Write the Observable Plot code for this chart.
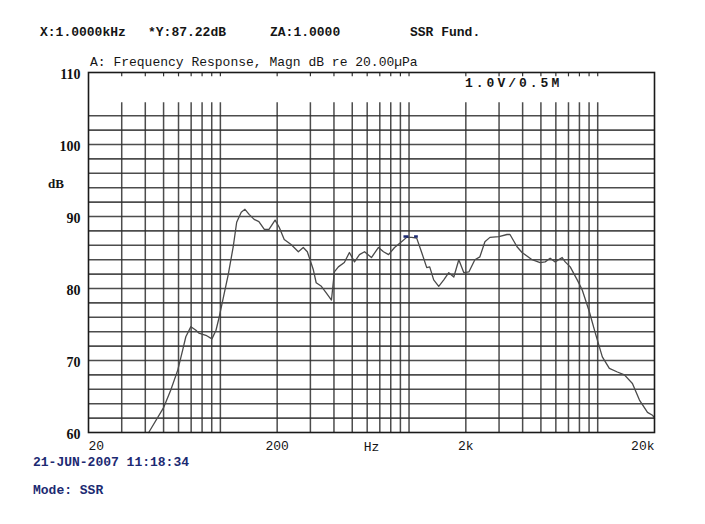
<!DOCTYPE html>
<html><head><meta charset="utf-8">
<script src="https://cdn.jsdelivr.net/npm/d3@7"></script>
<script src="https://cdn.jsdelivr.net/npm/@observablehq/plot@0.6"></script>
<style>
body{margin:0;background:#fff;}
#wrap{position:relative;width:705px;height:524px;overflow:hidden;background:#fff;}
#chart{position:absolute;left:0;top:0;}
.t{position:absolute;font-family:"Liberation Mono","DejaVu Sans Mono",monospace;font-size:13px;color:#151515;white-space:pre;line-height:1;}
.b{color:#1c2a72;font-weight:bold;}
</style></head><body>
<div id="wrap">
  <div id="chart"></div>
  <div class="t" style="left:40px;top:26px;font-weight:bold">X:1.0000kHz</div>
  <div class="t" style="left:148px;top:26px;font-weight:bold">*Y:87.22dB</div>
  <div class="t" style="left:270px;top:26px;font-weight:bold">ZA:1.0000</div>
  <div class="t" style="left:410px;top:26px;font-weight:bold">SSR Fund.</div>
  <div class="t" style="left:90px;top:56px">A: Frequency Response, Magn dB re 20.00µPa</div>
  <div class="t" style="left:465px;top:77px;letter-spacing:3px;font-weight:bold">1.0V/0.5M</div>
  <div class="t" style="left:48px;top:177px;font-family:'Liberation Serif',serif;font-weight:bold;font-size:13px">dB</div>
  <div class="t b" style="left:33px;top:456px">21-JUN-2007 11:18:34</div>
  <div class="t b" style="left:33px;top:484px">Mode: SSR</div>
</div>
<script>
// Frequency response curve (Hz, dB)
const freqHz = [41.7, 50.1, 54.6, 59.5, 63.2, 65.6, 69.8, 74.2, 76.9, 83.8, 90.2, 94.8, 98.3, 103, 110, 117, 122, 129, 135, 142, 151, 160, 171, 181, 195, 205, 218, 237, 259, 275, 289, 311, 322, 343, 364, 388, 402, 422, 454, 483, 514, 546, 581, 632, 689, 732, 779, 838, 913, 971, 1033, 1098, 1167, 1241, 1287, 1351, 1437, 1528, 1624, 1727, 1836, 1952, 2075, 2233, 2374, 2524, 2684, 2996, 3304, 3428, 3736, 3972, 4490, 4950, 5264, 5596, 5949, 6482, 6726, 7150, 7788, 8280, 9022, 9714, 10580, 11526, 12716, 13850, 15276, 16646, 18360, 19518, 20000];
const magnDb = [60.0, 63.5, 65.9, 68.7, 71.5, 73.3, 74.7, 74.2, 73.8, 73.5, 73.0, 74.2, 75.9, 78.4, 81.9, 85.8, 89.2, 90.6, 91.0, 90.3, 89.6, 89.3, 88.2, 88.2, 89.5, 88.5, 86.8, 86.1, 85.1, 85.7, 85.1, 82.6, 80.8, 80.3, 79.4, 78.4, 82.3, 83.0, 83.6, 85.0, 83.7, 84.7, 85.1, 84.3, 85.7, 85.1, 84.7, 85.7, 86.5, 87.1, 87.1, 87.0, 85.0, 82.9, 83.0, 81.2, 80.3, 81.2, 82.2, 81.6, 84.0, 82.2, 82.3, 84.0, 84.4, 86.5, 87.1, 87.2, 87.5, 87.5, 85.8, 85.0, 84.0, 83.6, 83.7, 84.2, 83.7, 84.3, 83.7, 83.0, 81.2, 79.8, 76.8, 73.8, 70.5, 68.9, 68.4, 68.0, 66.8, 64.5, 62.8, 62.4, 62.0];

// Cursor readout
const cursorHz = 1000;
const cursorDb = 87.22;

// Axes and grid
const xTicks = [20, 200, 2000, 20000];
const xTickLabels = ["20", "200", "2k", "20k"];
const yTicks = [60, 70, 80, 90, 100, 110];
const gridHz = [30, 40, 50, 60, 70, 80, 90, 100, 200, 300, 400, 500, 600, 700, 800, 900, 1000, 2000, 3000, 4000, 5000, 6000, 7000, 8000, 9000, 10000];
const gridDb = [62, 64, 66, 68, 70, 72, 74, 76, 78, 80, 82, 84, 86, 88, 90, 92, 94, 96, 98, 100, 102, 104];
const gridTopDb = 105.8;

const curve = freqHz.map((f, i) => ({f, db: magnDb[i]}));
const xLabel = d => xTickLabels[xTicks.indexOf(d)];
const axisCommon = {tickSize: 0, tickPadding: 8, tickFormat: xLabel, fontFamily: "Liberation Mono, monospace", fontSize: 13, fill: "#151515"};

const chart = Plot.plot({
  width: 705,
  height: 524,
  marginLeft: 88,
  marginRight: 51,
  marginTop: 72,
  marginBottom: 92,
  x: {type: "log", domain: [20, 20000]},
  y: {domain: [60, 110]},
  style: {background: "transparent", overflow: "visible"},
  marks: [
    Plot.ruleY(gridDb, {x1: 20, x2: 20000, stroke: "#2e2e2e", strokeWidth: 1.6, strokeOpacity: 0.85}),
    Plot.ruleX(gridHz, {y1: 60, y2: gridTopDb, stroke: "#2e2e2e", strokeWidth: 1.5, strokeOpacity: 0.85}),
    Plot.ruleX(gridHz, {y1: 110, y2: 109.4, stroke: "#333", strokeWidth: 1.2}),
    Plot.line(curve, {x: "f", y: "db", stroke: "#4a4a4a", strokeWidth: 1.3}),
    Plot.ruleY([cursorDb], {x1: cursorHz * 0.94, x2: cursorHz * 1.0, stroke: "#1c2a72", strokeWidth: 2.5}),
    Plot.ruleY([cursorDb], {x1: cursorHz * 1.07, x2: cursorHz * 1.12, stroke: "#1c2a72", strokeWidth: 2.5}),
    Plot.frame({stroke: "#1a1a1a", strokeWidth: 1.6}),
    Plot.axisX([xTicks[0]], {...axisCommon, textAnchor: "start", label: null}),
    Plot.axisX(xTicks.slice(1, 3), {...axisCommon, textAnchor: "middle", label: "Hz", labelAnchor: "center", labelArrow: "none", labelOffset: 18}),
    Plot.axisX([xTicks[3]], {...axisCommon, textAnchor: "end", label: null}),
    Plot.axisY(yTicks, {tickSize: 0, tickPadding: 8, label: null, fontFamily: "Liberation Serif, serif", fontWeight: "bold", fontSize: 14, fill: "#111", dy: 2})
  ]
});
document.getElementById("chart").appendChild(chart);
</script>
</body></html>
